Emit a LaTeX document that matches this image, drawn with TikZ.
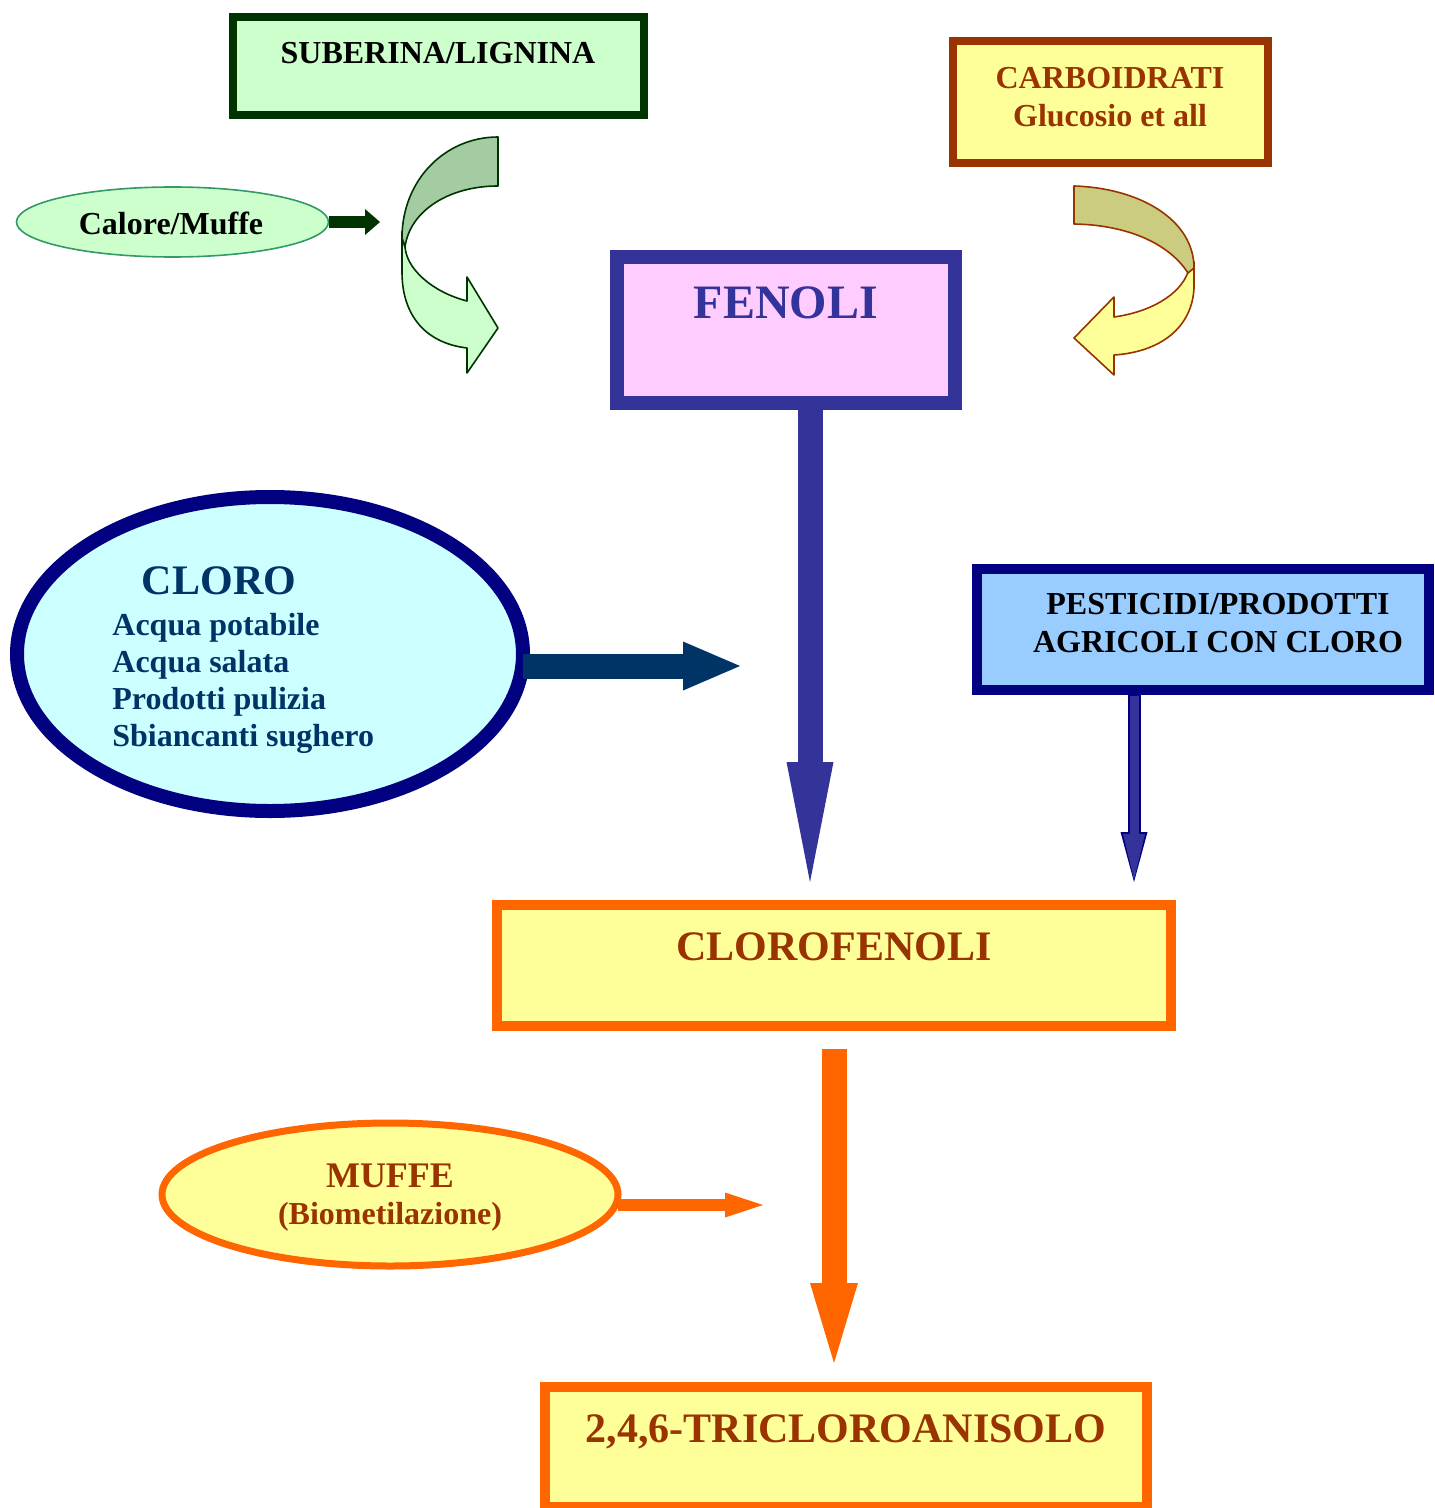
\documentclass[tikz,border=0pt]{standalone}
\usepackage{fontspec}
\setmainfont{Liberation Serif}
\usetikzlibrary{shapes.geometric,arrows.meta,calc}

\definecolor{sgreen}{HTML}{003300}
\definecolor{lgreen}{HTML}{CCFFCC}
\definecolor{mgreen}{HTML}{A3CCA3}
\definecolor{cgreen}{HTML}{339966}
\definecolor{brown}{HTML}{993300}
\definecolor{lyellow}{HTML}{FFFF99}
\definecolor{olive}{HTML}{CCCC80}
\definecolor{indigo}{HTML}{333399}
\definecolor{pink}{HTML}{FFCCFF}
\definecolor{navy}{HTML}{000080}
\definecolor{cyanfill}{HTML}{CCFFFF}
\definecolor{teal}{HTML}{003366}
\definecolor{sky}{HTML}{99CCFF}
\definecolor{orange}{HTML}{FF6600}

\begin{document}
\begin{tikzpicture}[x=0.5pt,y=-0.5pt,
  box/.style={draw, rectangle, inner sep=0pt, outer sep=0pt},
  oval/.style={draw, ellipse, inner sep=0pt, outer sep=0pt},
  txt/.style={inner sep=0pt, align=center, font=\bfseries\fontsize{16}{19}\selectfont},
  bigtxt/.style={inner sep=0pt, font=\bfseries\fontsize{21}{25}\selectfont},
  blockarrow/.style n args={4}{draw=#1, line width=#2,
    -{Triangle[length=#3, width=#4, line width=0pt]}}
]
\useasboundingbox (0,0) rectangle (1434,1508);

% ---- source boxes ----
\node[box, draw=sgreen, fill=lgreen, line width=4pt,
      minimum width=205.5pt, minimum height=49pt] (sub) at (438.5,66) {};
\node[txt] (subT) at (438,53) {SUBERINA/LIGNINA};

\node[box, draw=brown, fill=lyellow, line width=4pt,
      minimum width=157.5pt, minimum height=61pt] (carb) at (1110.5,102) {};
\node[txt, text=brown] (carbT) at (1110,97) {CARBOIDRATI\\Glucosio et all};

\node[oval, draw=cgreen, fill=lgreen, line width=0.8pt,
      minimum width=156pt, minimum height=35pt] (cal) at (172.5,222) {};
\node[txt] (calT) at (171,223) {Calore/Muffe};

% ---- FENOLI ----
\node[box, draw=indigo, fill=pink, line width=7pt,
      minimum width=169pt, minimum height=73pt] (fen) at (786,330) {};
\node[inner sep=0pt, text=indigo, font=\bfseries\fontsize{24}{28}\selectfont]
      (fenT) at (786,303) {FENOLI};

% ---- curved arrow, left ----
\filldraw[draw=sgreen, fill=lgreen, line width=0.8pt, line join=round]
  (402,232) -- (402,272) .. controls (402,315) and (425,343) .. (467,348)
  -- (467,373) -- (498,328) -- (467,277) -- (467,301)
  .. controls (432,292) and (405,268) .. (405,245) -- cycle;
\filldraw[draw=sgreen, fill=mgreen, line width=0.8pt, line join=round]
  (498,137) .. controls (445,137) and (402,180) .. (402,238) -- (405,247)
  .. controls (410,210) and (450,186) .. (498,186) -- cycle;

% ---- curved arrow, right ----
\filldraw[draw=brown, fill=lyellow, line width=0.8pt, line join=round]
  (1194,262) -- (1194,288) .. controls (1192,328) and (1160,352) .. (1114,355)
  -- (1114,375) -- (1074,338) -- (1114,297) -- (1114,317)
  .. controls (1150,312) and (1180,295) .. (1188,272) -- cycle;
\filldraw[draw=brown, fill=olive, line width=0.8pt, line join=round]
  (1074,186) .. controls (1140,188) and (1194,220) .. (1194,268) -- (1188,273)
  .. controls (1170,245) and (1130,225) .. (1074,224) -- cycle;

% ---- CLORO ----
\node[oval, draw=navy, fill=cyanfill, line width=7pt,
      minimum width=253pt, minimum height=157pt] (clo) at (270,654) {};
\node[bigtxt, text=teal] (cloT) at (219,581) {CLORO};
\node[txt, text=teal, align=left, anchor=north west, font=\bfseries\fontsize{16}{18.5}\selectfont]
      (cloL) at (112,613) {Acqua potabile\\Acqua salata\\Prodotti pulizia\\Sbiancanti sughero};

% ---- PESTICIDI ----
\node[box, draw=navy, fill=sky, line width=5pt,
      minimum width=226pt, minimum height=60.5pt] (pest) at (1203,629.5) {};
\node[txt] (pestT) at (1218,623.5) {PESTICIDI/PRODOTTI\\AGRICOLI CON CLORO};

% ---- CLOROFENOLI ----
\node[box, draw=orange, fill=lyellow, line width=5pt,
      minimum width=337pt, minimum height=60.5pt] (cf) at (834,965.5) {};
\node[bigtxt, text=brown] (cfT) at (834,947) {CLOROFENOLI};

% ---- MUFFE ----
\node[oval, draw=orange, fill=lyellow, line width=3.5pt,
      minimum width=228pt, minimum height=71.5pt] (muf) at (390,1194.5) {};
\node[inner sep=0pt, text=brown, font=\bfseries\fontsize{18}{21}\selectfont]
      (mufT) at (390,1176) {MUFFE};
\node[txt, text=brown] (mufB) at (390,1217) {(Biometilazione)};

% ---- 2,4,6-TRICLOROANISOLO ----
\node[box, draw=orange, fill=lyellow, line width=5pt,
      minimum width=301pt, minimum height=60pt] (tca) at (846,1447) {};
\node[bigtxt, text=brown, anchor=base] (tcaT) at (846,1442) {2,4,6-TRICLOROANISOLO};

% ---- block arrows ----
\coordinate (calTip) at (380,222);
\draw[blockarrow={sgreen}{6pt}{7.5pt}{13pt}] (cal.east) -- (calTip);

\coordinate (fenTip) at (810,882);
\draw[blockarrow={indigo}{12.5pt}{60pt}{23.5pt}] (fenTip |- fen.south) -- (fenTip);

\coordinate (cloTip) at (740,666);
\draw[blockarrow={teal}{12.5pt}{28.5pt}{24.5pt}] (clo.east |- cloTip) -- (cloTip);

\coordinate (pestTip) at (1134,882);
\draw[blockarrow={navy}{6.5pt}{25pt}{13.5pt}] ($(pestTip |- pest.south)+(0,2)$) -- (pestTip);
\draw[blockarrow={indigo}{4.5pt}{23pt}{11pt}, shorten >=1pt] ($(pestTip |- pest.south)+(0,6)$) -- (pestTip);

\coordinate (cfStart) at ($(cf.south)+(0,23)$);
\coordinate (cfTip) at (834,1363);
\draw[blockarrow={orange}{12.5pt}{40pt}{24pt}] (cfStart) -- (cfTip);

\coordinate (mufTip) at (763,1205);
\draw[blockarrow={orange}{6pt}{19pt}{12.5pt}] (muf.east |- mufTip) -- (mufTip);

\end{tikzpicture}
\end{document}
